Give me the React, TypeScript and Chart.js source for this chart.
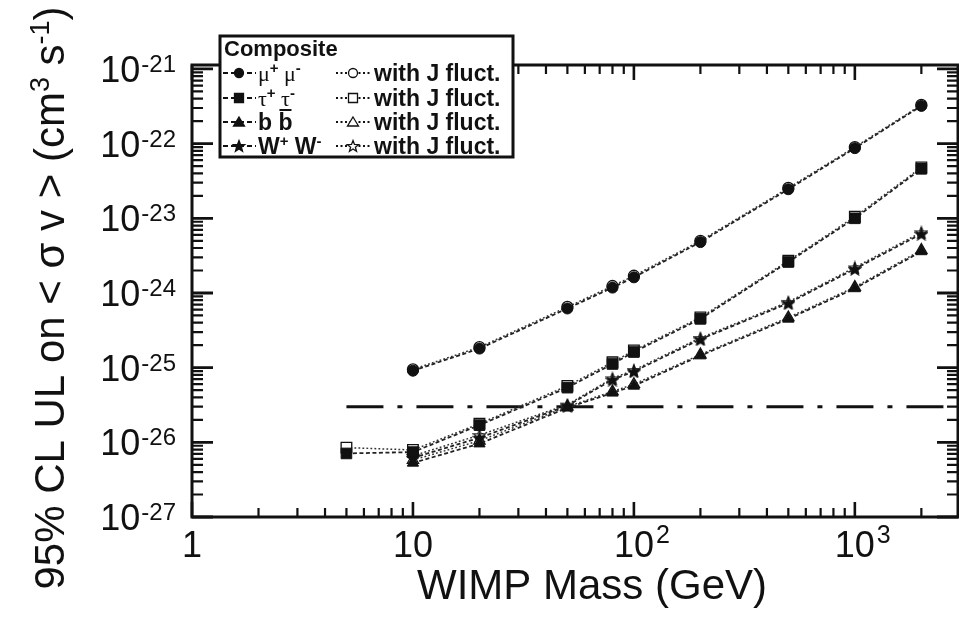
import React, { useEffect, useRef } from "react";
import { Chart, registerables } from "chart.js";
Chart.register(...registerables);

// ---------- data ----------
const masses = [5, 10, 20, 50, 80, 100, 200, 500, 1000, 2000];
const mumu = [null, 9.1e-26, 1.8e-25, 6.2e-25, 1.18e-24, 1.62e-24, 4.8e-24, 2.45e-23, 8.7e-23, 3.2e-22];
const mumuJ = [null, 9.5e-26, 1.88e-25, 6.5e-25, 1.24e-24, 1.7e-24, 5.0e-24, 2.55e-23, 9.0e-23, 3.3e-22];
const tautau = [7.1e-27, 7.4e-27, 1.7e-26, 5.4e-26, 1.12e-25, 1.62e-25, 4.5e-25, 2.6e-24, 1.0e-23, 4.6e-23];
const tautauJ = [8.5e-27, 7.9e-27, 1.78e-26, 5.7e-26, 1.18e-25, 1.7e-25, 4.7e-25, 2.7e-24, 1.05e-23, 4.8e-23];
const bb = [null, 5.3e-27, 9.6e-27, 2.9e-26, 4.6e-26, 5.7e-26, 1.45e-25, 4.5e-25, 1.15e-24, 3.6e-24];
const bbJ = [null, 5.8e-27, 1.05e-26, 3.0e-26, 4.8e-26, 6.0e-26, 1.5e-25, 4.7e-25, 1.2e-24, 3.75e-24];
const ww = [null, 6.2e-27, 1.15e-26, 3.1e-26, 6.9e-26, 8.9e-26, 2.4e-25, 7.3e-25, 2.1e-24, 6.2e-24];
const wwJ = [null, 6.6e-27, 1.25e-26, 3.2e-26, 7.2e-26, 9.3e-26, 2.5e-25, 7.6e-25, 2.2e-24, 6.5e-24];
const thermalMass = [5, 2800];
const thermalValue = [3e-26, 3e-26];

const xTickValues = [1, 10, 100, 1000];
const xTickBase = ["1", "10", "10", "10"];
const xTickExp = ["", "", "2", "3"];
const yTickValues = [1e-27, 1e-26, 1e-25, 1e-24, 1e-23, 1e-22, 1e-21];
const yTickExp = ["-27", "-26", "-25", "-24", "-23", "-22", "-21"];

const legendTitle = "Composite";
const legendJLabel = "with J fluct.";
const xTitle = "WIMP Mass (GeV)";

const SANS = '"Liberation Sans", Arial, Helvetica, sans-serif';
const SERIF = '"Liberation Serif", "Times New Roman", serif';
const INK = "#111";

function pts(vals: (number | null)[]) {
  return masses
    .map((m, i) => ({ x: m, y: vals[i] }))
    .filter((p) => p.y !== null) as { x: number; y: number }[];
}

function starPath(ctx: CanvasRenderingContext2D, cx: number, cy: number, R: number) {
  const r = R * 0.42;
  ctx.beginPath();
  for (let i = 0; i < 10; i++) {
    const a = -Math.PI / 2 + (i * Math.PI) / 5;
    const rad = i % 2 === 0 ? R : r;
    const px = cx + rad * Math.cos(a);
    const py = cy + rad * Math.sin(a);
    if (i === 0) ctx.moveTo(px, py);
    else ctx.lineTo(px, py);
  }
  ctx.closePath();
}

function starCanvas(filled: boolean, size: number) {
  const c = document.createElement("canvas");
  c.width = size;
  c.height = size;
  const ctx = c.getContext("2d")!;
  starPath(ctx, size / 2, size / 2 + 0.8, size / 2 - 0.8);
  ctx.fillStyle = filled ? INK : "#fff";
  ctx.fill();
  ctx.lineWidth = 1.2;
  ctx.strokeStyle = INK;
  ctx.stroke();
  return c;
}

function drawMarker(ctx: CanvasRenderingContext2D, kind: string, x: number, y: number, filled: boolean) {
  ctx.save();
  ctx.setLineDash([]);
  ctx.fillStyle = filled ? INK : "#fff";
  ctx.strokeStyle = INK;
  ctx.lineWidth = 1.3;
  ctx.beginPath();
  if (kind === "circle") ctx.arc(x, y, 4.5, 0, Math.PI * 2);
  else if (kind === "rect") ctx.rect(x - 4.5, y - 4.5, 9, 9);
  else if (kind === "triangle") {
    ctx.moveTo(x, y - 5);
    ctx.lineTo(x + 5.5, y + 4);
    ctx.lineTo(x - 5.5, y + 4);
    ctx.closePath();
  } else starPath(ctx, x, y + 0.5, 6);
  ctx.fill();
  ctx.stroke();
  ctx.restore();
}

function drawSup(
  ctx: CanvasRenderingContext2D,
  parts: { t: string; sup?: boolean; font: string; supFont?: string; bar?: boolean }[],
  x: number,
  y: number,
  supRaise: number
) {
  let cx = x;
  for (const p of parts) {
    ctx.font = p.sup ? p.supFont || p.font : p.font;
    const w = ctx.measureText(p.t).width;
    ctx.fillText(p.t, cx, p.sup ? y - supRaise : y);
    if (p.bar) {
      ctx.fillRect(cx + 1, y - 21, w - 2, 2);
    }
    cx += w;
  }
  return cx;
}

const framePlugin = {
  id: "frameTicks",
  afterDatasetsDraw(chart: any) {
    const { ctx, chartArea: a, scales } = chart;
    const xs = scales.x;
    const ys = scales.y;
    ctx.save();
    ctx.strokeStyle = INK;
    ctx.setLineDash([]);
    // x ticks (bottom & top)
    for (let d = 0; d <= 3; d++) {
      for (let k = 1; k <= 9; k++) {
        const v = k * Math.pow(10, d);
        if (v < xs.min || v > xs.max) continue;
        const px = xs.getPixelForValue(v);
        const major = k === 1;
        ctx.lineWidth = major ? 2.6 : 2.2;
        ctx.beginPath();
        ctx.moveTo(px, a.bottom);
        ctx.lineTo(px, a.bottom - (major ? 15 : 9));
        ctx.moveTo(px, a.top);
        ctx.lineTo(px, a.top + (major ? 15 : 9));
        ctx.stroke();
      }
    }
    // y ticks (left & right)
    for (let d = -27; d <= -21; d++) {
      for (let k = 1; k <= 9; k++) {
        const v = k * Math.pow(10, d);
        if (v < ys.min * 0.999 || v > ys.max) continue;
        const py = ys.getPixelForValue(v);
        const major = k === 1;
        ctx.lineWidth = major ? 2.8 : 2.2;
        ctx.beginPath();
        ctx.moveTo(a.left, py);
        ctx.lineTo(a.left + (major ? 21 : 11), py);
        ctx.moveTo(a.right, py);
        ctx.lineTo(a.right - (major ? 21 : 11), py);
        ctx.stroke();
      }
    }
    // frame
    ctx.lineWidth = 3;
    ctx.strokeRect(a.left, a.top, a.right - a.left, a.bottom - a.top);

    // tick labels
    ctx.fillStyle = INK;
    ctx.textBaseline = "alphabetic";
    xTickValues.forEach((v, i) => {
      const px = xs.getPixelForValue(v);
      ctx.font = `36px ${SANS}`;
      ctx.textAlign = "center";
      const bw = ctx.measureText(xTickBase[i]).width;
      ctx.fillText(xTickBase[i], px, 557);
      if (xTickExp[i]) {
        ctx.font = `25px ${SANS}`;
        ctx.textAlign = "left";
        ctx.fillText(xTickExp[i], px + bw / 2 + 2, 543);
      }
    });
    yTickValues.forEach((v, i) => {
      const py = ys.getPixelForValue(v);
      ctx.font = `24px ${SANS}`;
      ctx.textAlign = "left";
      const ew = ctx.measureText(yTickExp[i]).width;
      const ex = 176 - ew;
      ctx.fillText(yTickExp[i], ex, py + 3);
      ctx.font = `36px ${SANS}`;
      ctx.textAlign = "right";
      ctx.fillText("10", ex - 1, py + 13);
    });

    // axis titles
    ctx.textAlign = "center";
    ctx.font = `42px ${SANS}`;
    ctx.fillText(xTitle, 592, 599);

    ctx.save();
    ctx.translate(64, 298);
    ctx.rotate(-Math.PI / 2);
    const big = `42px ${SANS}`;
    const small = `27px ${SANS}`;
    const yParts = [
      { t: "95% CL UL on < σ v > (cm", font: big },
      { t: "3", sup: true, font: big, supFont: small },
      { t: " s", font: big },
      { t: "-1", sup: true, font: big, supFont: small },
      { t: ")", font: big },
    ];
    let total = 0;
    for (const p of yParts) {
      ctx.font = p.sup ? p.supFont! : p.font;
      total += ctx.measureText(p.t).width;
    }
    ctx.textAlign = "left";
    drawSup(ctx, yParts, -total / 2, 0, 15);
    ctx.restore();
    ctx.restore();
  },
  afterDraw(chart: any) {
    const { ctx } = chart;
    ctx.save();
    // legend box
    const bx = 220, by = 36, bw = 293, bh = 121;
    ctx.fillStyle = "#fff";
    ctx.fillRect(bx, by, bw, bh);
    ctx.strokeStyle = INK;
    ctx.lineWidth = 3;
    ctx.setLineDash([]);
    ctx.strokeRect(bx, by, bw, bh);
    ctx.fillStyle = INK;
    ctx.textAlign = "left";
    ctx.textBaseline = "alphabetic";
    ctx.font = `bold 22px ${SANS}`;
    ctx.fillText(legendTitle, 224, 56);

    const rowsY = [73, 98, 122, 146];
    const kinds = ["circle", "rect", "triangle", "star"];
    const bold = `bold 23px ${SANS}`;
    const boldSup = `bold 15px ${SANS}`;
    const serif = `22px ${SERIF}`;
    const serifSup = `bold 15px ${SANS}`;
    const labels: { t: string; sup?: boolean; font: string; supFont?: string; bar?: boolean }[][] = [
      [
        { t: "μ", font: serif },
        { t: "+", sup: true, font: serif, supFont: serifSup },
        { t: " μ", font: serif },
        { t: "-", sup: true, font: serif, supFont: serifSup },
      ],
      [
        { t: "τ", font: serif },
        { t: "+", sup: true, font: serif, supFont: serifSup },
        { t: " τ", font: serif },
        { t: "-", sup: true, font: serif, supFont: serifSup },
      ],
      [
        { t: "b ", font: bold },
        { t: "b", font: bold, bar: true },
      ],
      [
        { t: "W", font: bold },
        { t: "+", sup: true, font: bold, supFont: boldSup },
        { t: " W", font: bold },
        { t: "-", sup: true, font: bold, supFont: boldSup },
      ],
    ];
    rowsY.forEach((ry, i) => {
      // filled sample
      ctx.strokeStyle = INK;
      ctx.lineWidth = 2;
      ctx.setLineDash([5, 3]);
      ctx.beginPath();
      ctx.moveTo(223, ry);
      ctx.lineTo(256, ry);
      ctx.stroke();
      drawMarker(ctx, kinds[i], 239, ry, true);
      ctx.fillStyle = INK;
      drawSup(ctx, labels[i], 258, ry + 8, 8);
      // open sample
      ctx.strokeStyle = INK;
      ctx.lineWidth = 1.8;
      ctx.setLineDash([2, 2.5]);
      ctx.beginPath();
      ctx.moveTo(336, ry);
      ctx.lineTo(372, ry);
      ctx.stroke();
      drawMarker(ctx, kinds[i], 353, ry, false);
      ctx.fillStyle = INK;
      ctx.font = bold;
      ctx.fillText(legendJLabel, 374, ry + 8);
    });
    ctx.restore();
  },
};

export default function App() {
  const ref = useRef<HTMLCanvasElement>(null);
  useEffect(() => {
    const canvas = ref.current!;
    const starFilled = starCanvas(true, 14);
    const starOpen = starCanvas(false, 14);
    const filledLine = { borderColor: "#222", borderWidth: 1.8, borderDash: [4, 2.5] };
    const dottedLine = { borderColor: "#333", borderWidth: 1.5, borderDash: [1.8, 2.2] };
    const filledPt = { pointBackgroundColor: INK, pointBorderColor: INK, pointBorderWidth: 1 };
    const openPt = { pointBackgroundColor: "#fff", pointBorderColor: INK, pointBorderWidth: 1.3 };
    const chart = new Chart(canvas, {
      type: "line",
      data: {
        datasets: [
          { label: "μ+ μ-", data: pts(mumu), pointStyle: "circle", pointRadius: 5.5, ...filledLine, ...filledPt },
          { label: "τ+ τ-", data: pts(tautau), pointStyle: "rect", pointRadius: 7.5, ...filledLine, ...filledPt },
          { label: "b bbar", data: pts(bb), pointStyle: "triangle", pointRadius: 6.5, ...filledLine, ...filledPt },
          { label: "W+ W-", data: pts(ww), pointStyle: starFilled, pointRadius: 7, ...filledLine, ...filledPt },
          { label: "μ+ μ- with J fluct.", data: pts(mumuJ), pointStyle: "circle", pointRadius: 5.5, ...dottedLine, ...openPt },
          { label: "τ+ τ- with J fluct.", data: pts(tautauJ), pointStyle: "rect", pointRadius: 7.5, ...dottedLine, ...openPt },
          { label: "b bbar with J fluct.", data: pts(bbJ), pointStyle: "triangle", pointRadius: 6.5, ...dottedLine, ...openPt },
          { label: "W+ W- with J fluct.", data: pts(wwJ), pointStyle: starOpen, pointRadius: 7, ...dottedLine, ...openPt },
          {
            label: "thermal",
            data: thermalMass.map((m, i) => ({ x: m, y: thermalValue[i] })),
            borderColor: INK,
            borderWidth: 3,
            borderDash: [37, 14, 5, 14],
            pointRadius: 0,
          },
        ] as any,
      },
      options: {
        animation: false,
        responsive: false,
        devicePixelRatio: 1,
        layout: { autoPadding: false, padding: { top: 65, right: 1, left: 0, bottom: 0 } },
        plugins: { legend: { display: false }, tooltip: { enabled: false } },
        scales: {
          x: {
            type: "logarithmic",
            min: 1,
            max: 2930,
            ticks: { display: false },
            grid: { display: false },
            border: { display: false },
            afterFit: (s: any) => {
              s.height = 102;
            },
          },
          y: {
            type: "logarithmic",
            min: 1e-27,
            max: 1.13e-21,
            ticks: { display: false },
            grid: { display: false },
            border: { display: false },
            afterFit: (s: any) => {
              s.width = 192;
            },
          },
        },
      } as any,
      plugins: [framePlugin],
    });
    return () => chart.destroy();
  }, []);
  return (
    <div style={{ position: "absolute", left: 0, top: 0, width: 959, height: 619, background: "#fff" }}>
      <canvas ref={ref} width={959} height={619} style={{ display: "block", width: 959, height: 619 }} />
    </div>
  );
}
